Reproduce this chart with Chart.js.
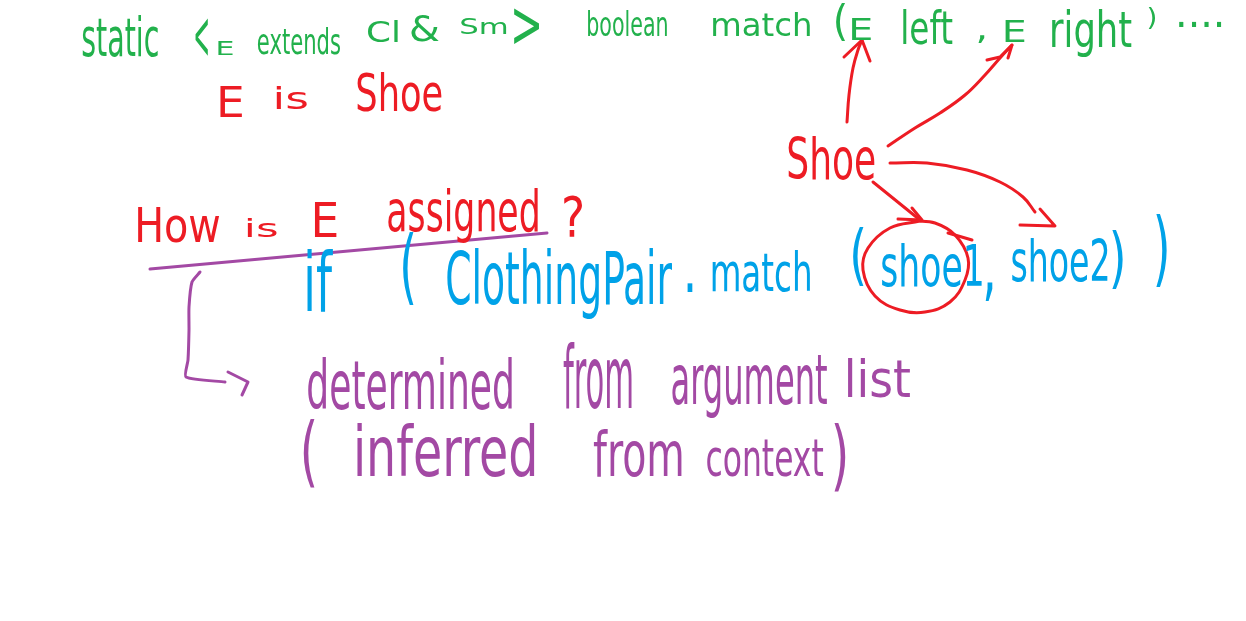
<!DOCTYPE html>
<html>
<head>
<meta charset="utf-8">
<title>How is E assigned?</title>
<script src="https://cdn.jsdelivr.net/npm/chart.js"></script>
<style>
  html, body { margin: 0; padding: 0; background: #ffffff; }
  #wrap { width: 1246px; height: 621px; position: relative; }
</style>
</head>
<body>
<div id="wrap"><canvas id="noteChart"></canvas></div>
<script>
const greenWords = ['static', '<', 'E', 'extends', 'Cl', '&', 'Sm', '>', 'boolean', 'match', '(', 'E', 'left', ',', 'E', 'right', ')', '....'];
const greenBoxes = [[82, 158, 15, 57], [195, 208, 17, 57], [218, 233, 40, 55], [258, 340, 27, 55], [368, 398, 20, 43], [410, 440, 13, 42], [461, 507, 18, 35], [513, 540, 7, 45], [588, 667, 10, 37], [713, 810, 12, 37], [835, 847, 3, 42], [850, 873, 18, 40], [903, 953, 8, 45], [975, 987, 35, 43], [1005, 1025, 20, 42], [1052, 1132, 8, 58], [1148, 1155, 7, 30], [1173, 1227, 21, 27]];

const redWords = ['E', 'is', 'Shoe', 'Shoe', 'How', 'is', 'E', 'assigned', '?'];
const redBoxes = [[220, 243, 85, 117], [275, 308, 87, 110], [357, 442, 72, 112], [788, 875, 135, 180], [138, 220, 207, 243], [247, 277, 218, 238], [312, 340, 202, 237], [388, 538, 188, 243], [562, 584, 194, 236]];

const blueWords = ['if', '(', 'ClothingPair', '.', 'match', '(', 'shoe1', ',', 'shoe2', ')', ')'];
const blueBoxes = [[302, 338, 243, 315], [393, 423, 228, 310], [447, 673, 248, 320], [686, 694, 283, 292], [712, 810, 250, 292], [843, 873, 227, 287], [882, 982, 243, 287], [985, 994, 280, 300], [1012, 1108, 238, 282], [1110, 1125, 230, 290], [1148, 1175, 213, 288]];

const purpleWords = ['determined', 'from', 'argument', 'list', '(', 'inferred', 'from', 'context', ')'];
const purpleBoxes = [[308, 512, 357, 410], [563, 632, 338, 413], [672, 827, 355, 418], [848, 910, 357, 398], [303, 315, 418, 487], [355, 537, 422, 477], [593, 682, 427, 477], [707, 823, 440, 477], [830, 850, 422, 490]];

// pen strokes, as [x, y] points
const arrowToLeftE = [[847, 122], [849, 95], [853, 68], [858, 50], [862, 40]];
const arrowToLeftEHead = [[844, 57], [862, 40], [870, 61]];
const arrowToRightE = [[888, 146], [915, 128], [940, 113], [965, 95], [985, 75], [1000, 58], [1012, 45]];
const arrowToRightEHead = [[987, 60], [1000, 57], [1012, 45], [1008, 58]];
const arrowToShoe1 = [[873, 182], [920, 220]];
const arrowToShoe1Head = [[898, 219], [922, 220], [912, 208]];
const arrowToShoe2 = [[890, 163], [927, 163], [967, 170], [1000, 182], [1023, 197], [1035, 212]];
const arrowToShoe2Head = [[1040, 209], [1055, 226], [1020, 225]];
const circleShoe1 = [[920, 221], [890, 228], [868, 248], [863, 270], [875, 296], [900, 310], [925, 312], [950, 302], [965, 280], [968, 258], [955, 235], [935, 223], [915, 221]];
const circleTail = [[948, 233], [972, 240]];
const underline = [[150, 269], [547, 233]];
const bracket = [[200, 272], [192, 282], [189, 307], [189, 330], [188, 360], [186, 377], [225, 382]];
const bracketHead = [[228, 372], [248, 382], [242, 395]];

const GREEN = '#22b14c', RED = '#ed1c24', BLUE = '#00a2e8', PURPLE = '#a349a4';

function pts(list) {
    return list.map(p => ({ x: p[0], y: p[1] }));
}

function stroke(list, color, tension) {
    return {
        data: pts(list),
        showLine: true,
        borderColor: color,
        borderWidth: 3,
        pointRadius: 0,
        tension: tension,
        borderCapStyle: 'round',
        borderJoinStyle: 'round',
        clip: false
    };
}

function words(list, boxes, color, size) {
    return {
        words: list,
        fontSize: size,
        data: boxes.map(b => ({ x: b[0], x2: b[1], y: b[2], y2: b[3] })),
        showLine: false,
        borderColor: color,
        pointRadius: 0,
        pointHoverRadius: 0
    };
}

// draws each word fitted into its box, centred (never stretched much wider than the font)
const handText = {
    id: 'handText',
    afterDatasetsDraw(chart) {
        const { ctx } = chart;
        const xs = chart.scales.x, ys = chart.scales.y;
        chart.data.datasets.forEach(ds => {
            if (!ds.words) return;
            ctx.save();
            ctx.fillStyle = ds.borderColor;
            ctx.font = ds.fontSize + 'px "Liberation Sans Narrow", "DejaVu Sans Condensed", "DejaVu Sans"';
            ctx.textBaseline = 'alphabetic';
            ds.data.forEach((p, i) => {
                const txt = ds.words[i];
                const m = ctx.measureText(txt);
                const gw = m.actualBoundingBoxLeft + m.actualBoundingBoxRight;
                const gh = m.actualBoundingBoxAscent + m.actualBoundingBoxDescent;
                const x0 = xs.getPixelForValue(p.x), x1 = xs.getPixelForValue(p.x2);
                const y0 = ys.getPixelForValue(p.y), y1 = ys.getPixelForValue(p.y2);
                const sx = Math.min((x1 - x0) / gw, 1.1);
                const sy = Math.min((y1 - y0) / gh, 1.8);
                const cx = (x0 + x1) / 2, cy = (y0 + y1) / 2;
                ctx.save();
                ctx.translate(cx, cy);
                ctx.scale(sx, sy);
                ctx.fillText(txt, m.actualBoundingBoxLeft - gw / 2, m.actualBoundingBoxAscent - gh / 2);
                ctx.restore();
            });
            ctx.restore();
        });
    }
};

new Chart(document.getElementById('noteChart').getContext('2d'), {
    type: 'scatter',
    data: {
        datasets: [
            stroke(underline, PURPLE, 0),
            stroke(bracket, PURPLE, 0.2),
            stroke(bracketHead, PURPLE, 0),
            stroke(arrowToLeftE, RED, 0.4),
            stroke(arrowToLeftEHead, RED, 0),
            stroke(arrowToRightE, RED, 0.4),
            stroke(arrowToRightEHead, RED, 0),
            stroke(arrowToShoe1, RED, 0),
            stroke(arrowToShoe1Head, RED, 0),
            stroke(arrowToShoe2, RED, 0.4),
            stroke(arrowToShoe2Head, RED, 0),
            stroke(circleShoe1, RED, 0.4),
            stroke(circleTail, RED, 0),
            words(greenWords, greenBoxes, GREEN, 40),
            words(redWords, redBoxes, RED, 46),
            words(blueWords, blueBoxes, BLUE, 46),
            words(purpleWords, purpleBoxes, PURPLE, 48)
        ]
    },
    options: {
        responsive: true,
        maintainAspectRatio: false,
        animation: false,
        layout: { padding: 0 },
        scales: {
            x: { type: 'linear', min: 0, max: 1246, display: false },
            y: { type: 'linear', min: 0, max: 621, reverse: true, display: false }
        },
        plugins: {
            legend: { display: false },
            tooltip: { enabled: false }
        },
        events: []
    },
    plugins: [handText]
});
</script>
</body>
</html>
